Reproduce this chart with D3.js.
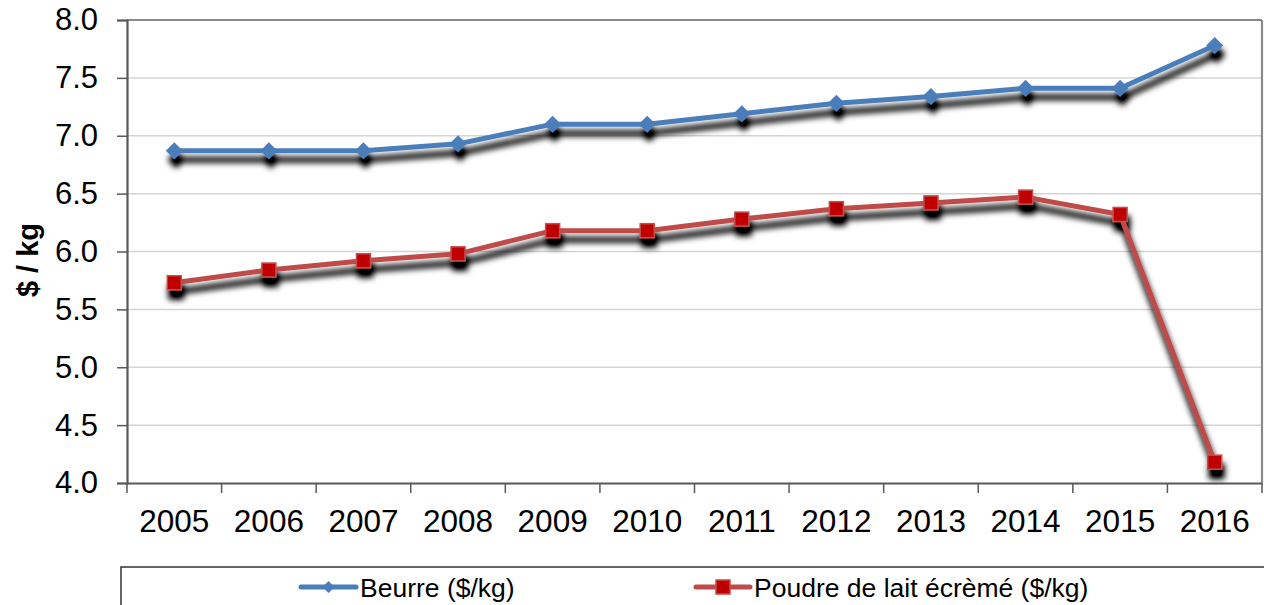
<!DOCTYPE html>
<html>
<head>
<meta charset="utf-8">
<script src="https://cdn.jsdelivr.net/npm/d3@7"></script>
<style>
  html, body { margin: 0; padding: 0; background: #fff; }
  svg { display: block; font-family: "Liberation Sans", Arial, sans-serif; }
</style>
</head>
<body>
<svg id="chart" width="1264" height="605"></svg>
<script>
const years = ["2005","2006","2007","2008","2009","2010","2011","2012","2013","2014","2015","2016"];
const beurre = [6.87, 6.87, 6.87, 6.93, 7.10, 7.10, 7.19, 7.28, 7.34, 7.41, 7.41, 7.78];
const poudre = [5.73, 5.84, 5.92, 5.98, 6.18, 6.18, 6.28, 6.37, 6.42, 6.47, 6.32, 4.18];
const yTicks = [4.0, 4.5, 5.0, 5.5, 6.0, 6.5, 7.0, 7.5, 8.0];
const seriesNames = ["Beurre ($/kg)", "Poudre de lait écrèmé ($/kg)"];

(function () {
const svg = d3.select("#chart");
const pL = 127, pR = 1262, pT = 20, pB = 483;

const x = d3.scaleBand().domain(years).range([pL, pR]).padding(0);
const y = d3.scaleLinear().domain([4, 8]).range([pB, pT]);

const defs = svg.append("defs");
const f = defs.append("filter").attr("id", "shadow")
  .attr("filterUnits", "userSpaceOnUse")
  .attr("x", 0).attr("y", 0).attr("width", 1264).attr("height", 605);
f.append("feGaussianBlur").attr("in", "SourceAlpha").attr("stdDeviation", 3.3).attr("result", "b");
f.append("feOffset").attr("in", "b").attr("dx", 1.5).attr("dy", 9).attr("result", "o");
f.append("feComponentTransfer").attr("in", "o").attr("result", "s")
  .append("feFuncA").attr("type", "linear").attr("slope", 1.2);
const m = f.append("feMerge");
m.append("feMergeNode").attr("in", "s");
m.append("feMergeNode").attr("in", "SourceGraphic");

// gridlines
svg.append("g").selectAll("line").data(yTicks.filter(d => d > 4 && d < 8)).join("line")
  .attr("x1", pL).attr("x2", pR)
  .attr("y1", d => y(d)).attr("y2", d => y(d))
  .attr("stroke", "#d4d4d4").attr("stroke-width", 1.5);

// frame top / right
svg.append("line").attr("x1", pL).attr("x2", pR).attr("y1", pT).attr("y2", pT)
  .attr("stroke", "#8a8a8a").attr("stroke-width", 2.2);
svg.append("line").attr("x1", pR).attr("x2", pR).attr("y1", pT).attr("y2", pB)
  .attr("stroke", "#8a8a8a").attr("stroke-width", 2.2);

// y axis
const yAxis = d3.axisLeft(y).tickValues(yTicks).tickFormat(d3.format(".1f")).tickSize(10).tickPadding(19);
const gy = svg.append("g").attr("transform", `translate(${pL},0)`).call(yAxis);
gy.select(".domain").attr("stroke", "#595959").attr("stroke-width", 2.2);
gy.selectAll(".tick line").attr("stroke", "#595959").attr("stroke-width", 1.5);
gy.selectAll(".tick text").attr("font-size", 31).attr("fill", "#000")
  .attr("font-family", "'Liberation Sans', Arial, sans-serif");

// x axis (labels)
const xAxis = d3.axisBottom(x).tickSize(0).tickPadding(27);
const gx = svg.append("g").attr("transform", `translate(0,${pB})`).call(xAxis);
gx.select(".domain").attr("stroke", "#595959").attr("stroke-width", 2.2);
gx.selectAll(".tick text").attr("font-size", 31.5).attr("fill", "#000")
  .attr("font-family", "'Liberation Sans', Arial, sans-serif");
// x boundary ticks
const edges = years.map(d => x(d)).concat([x.range()[1]]);
svg.append("g").selectAll("line").data(edges).join("line")
  .attr("x1", d => d).attr("x2", d => d).attr("y1", pB).attr("y2", pB + 10)
  .attr("stroke", "#595959").attr("stroke-width", 1.5);

// y label
svg.append("text")
  .attr("transform", `translate(38,260) rotate(-90)`)
  .attr("text-anchor", "middle")
  .attr("font-size", 29).attr("font-weight", "bold")
  .text("$ / kg");

const cx = d => x(d) + x.bandwidth() / 2;
const line = d3.line().x(d => cx(d[0])).y(d => y(d[1]));

const diamond = s => `M0,${-s}L${s},0L0,${s}L${-s},0Z`;

// series 1: Beurre
const g1 = svg.append("g").attr("filter", "url(#shadow)");
const d1 = years.map((yr, i) => [yr, beurre[i]]);
g1.append("path").datum(d1).attr("d", line)
  .attr("fill", "none").attr("stroke", "#4A7EBB").attr("stroke-width", 5).attr("stroke-linejoin", "round");
g1.selectAll("path.mk").data(d1).join("path").attr("class", "mk")
  .attr("transform", d => `translate(${cx(d[0])},${y(d[1])})`)
  .attr("d", diamond(8.5)).attr("fill", "#4A7EBB");

// series 2: Poudre
const g2 = svg.append("g").attr("filter", "url(#shadow)");
const d2 = years.map((yr, i) => [yr, poudre[i]]);
g2.append("path").datum(d2).attr("d", line)
  .attr("fill", "none").attr("stroke", "#BE4B48").attr("stroke-width", 5).attr("stroke-linejoin", "round");
g2.selectAll("rect").data(d2).join("rect")
  .attr("x", d => cx(d[0]) - 7).attr("y", d => y(d[1]) - 7)
  .attr("width", 14).attr("height", 14)
  .attr("fill", "#C00000").attr("stroke", "#C0504D").attr("stroke-width", 1.5);

// legend
svg.append("rect").attr("x", 121).attr("y", 567).attr("width", 1200).attr("height", 100)
  .attr("fill", "none").attr("stroke", "#333").attr("stroke-width", 1.5);
const ly = 587;
const leg = svg.append("g");
leg.append("line").attr("x1", 301).attr("x2", 356).attr("y1", ly).attr("y2", ly)
  .attr("stroke", "#4A7EBB").attr("stroke-width", 5).attr("stroke-linecap", "round");
leg.append("path").attr("transform", `translate(328.5,${ly})`).attr("d", diamond(6)).attr("fill", "#4A7EBB");
leg.append("text").attr("x", 360).attr("y", ly + 9.5).attr("font-size", 26.5).text(seriesNames[0]);
leg.append("line").attr("x1", 696).attr("x2", 750).attr("y1", ly).attr("y2", ly)
  .attr("stroke", "#BE4B48").attr("stroke-width", 5).attr("stroke-linecap", "round");
leg.append("rect").attr("x", 716).attr("y", ly - 7).attr("width", 14).attr("height", 14)
  .attr("fill", "#C00000").attr("stroke", "#C0504D").attr("stroke-width", 1.5);
leg.append("text").attr("x", 754).attr("y", ly + 9.5).attr("font-size", 26.5).text(seriesNames[1]);
})();
</script>
</body>
</html>
